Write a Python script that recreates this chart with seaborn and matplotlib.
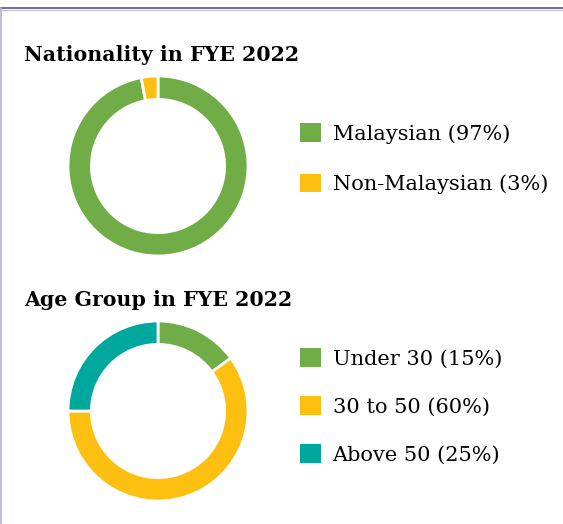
import matplotlib.pyplot as plt
import matplotlib.patches as mpatches
from matplotlib.lines import Line2D
import seaborn as sns

# data
nat_labels = ['Malaysian (97%)', 'Non-Malaysian (3%)']
nat_values = [97, 3]
age_labels = ['Under 30 (15%)', '30 to 50 (60%)', 'Above 50 (25%)']
age_values = [15, 60, 25]
titles = ['Nationality in FYE 2022', 'Age Group in FYE 2022']

green, yellow, teal = '#70ad47', '#fdc010', '#00a79d'
nat_colors = [green, yellow]
age_colors = sns.color_palette([green, yellow, teal])

sns.set_theme(style='white')
plt.rcParams['font.family'] = ['DejaVu Serif']
plt.rcParams['text.color'] = 'black'

W, H = 563, 524
fig = plt.figure(figsize=(W / 100, H / 100), dpi=100)


def px_axes(x0, y0, w, h):
    # pixel box from top-left -> figure fraction
    return fig.add_axes([x0 / W, 1 - (y0 + h) / H, w / W, h / H])


def donut(ax, vals, cols):
    ax.pie(vals, colors=cols, startangle=90, counterclock=False, radius=1,
           wedgeprops=dict(width=0.26, edgecolor='white', linewidth=2))
    ax.set_xlim(-1, 1)
    ax.set_ylim(-1, 1)
    ax.set_aspect('equal')
    ax.axis('off')


ax1 = px_axes(68, 76, 180, 180)
donut(ax1, nat_values, nat_colors)
ax2 = px_axes(68, 321, 180, 180)
donut(ax2, age_values, age_colors)

fig.text(24 / W, 1 - 55 / H, titles[0], fontsize=14.8, fontweight='bold', va='center', ha='left', color='black')
fig.text(24 / W, 1 - 300 / H, titles[1], fontsize=14.8, fontweight='bold', va='center', ha='left', color='black')


def legend(labels, cols, y_top, spacing):
    handles = [mpatches.Patch(facecolor=c, edgecolor='none', label=l) for l, c in zip(labels, cols)]
    leg = fig.legend(handles=handles, loc='upper left', bbox_to_anchor=(292 / W, 1 - y_top / H),
                     frameon=False, fontsize=15, handlelength=1.0, handleheight=1.0,
                     handletextpad=0.55, labelspacing=spacing, borderaxespad=0, borderpad=0.4)
    for t in leg.get_texts():
        t.set_color('black')


legend(nat_labels, nat_colors, 115, 1.44)
legend(age_labels, age_colors, 340, 1.32)

# frame lines
fig.add_artist(Line2D([0, 1], [1 - 8 / H, 1 - 8 / H], color='#5b4f8f', lw=1.2))
fig.add_artist(Line2D([0, 1], [1 - 9.5 / H, 1 - 9.5 / H], color='#c5bedc', lw=0.8))
fig.add_artist(Line2D([0.6 / W, 0.6 / W], [0, 1 - 8 / H], color='#b9b1d3', lw=1.2))

fig.savefig('out.png', dpi=100)
